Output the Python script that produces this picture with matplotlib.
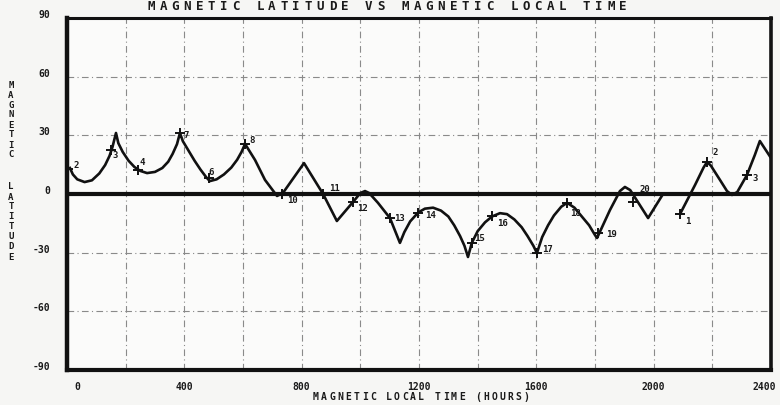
"""Magnetic latitude vs magnetic local time along the satellite track."""

import matplotlib
matplotlib.use("Agg")
import matplotlib.pyplot as plt
import matplotlib.transforms as mtransforms

# track before the data gap (MLT in hours*100, latitude in degrees)
TRACK1_MLT = [10, 20, 35, 60, 85, 110, 130, 145, 155, 167,
              175, 190, 210, 230, 250, 273, 300, 325, 345, 360, 375, 385,
              395, 415, 435, 455, 475, 487, 510, 535, 560, 580, 595, 607,
              641, 675, 716, 736, 808, 873, 920, 975, 1000, 1016, 1030, 1060,
              1101, 1135, 1150, 1170, 1197, 1220, 1248, 1275, 1300, 1320,
              1340, 1355, 1367, 1380, 1400, 1425, 1449, 1476, 1500, 1525,
              1550, 1570, 1590, 1602, 1620, 1640, 1660, 1685, 1705, 1730,
              1755, 1780, 1800, 1807, 1851, 1885, 1902, 1920, 1950, 1981,
              2032]
TRACK1_LAT = [13.3, 10.0, 7.5, 6.1, 7.0, 10.5, 14.8, 19.5, 24.0, 31.2,
              26.0, 21.5, 17.0, 13.8, 11.8, 10.7, 11.3, 13.3, 16.5, 20.5,
              25.5, 31.2, 27.0, 22.0, 17.0, 12.5, 8.5, 6.6, 7.5, 10.0, 13.5,
              17.5, 21.5, 25.6, 17.4, 7.2, -1.0, 0.5, 15.8, 0.0, -13.8, -4.1,
              0.5, 1.5, 0.5, -4.5, -12.3, -25.0, -19.5, -14.0, -9.5, -7.5,
              -7.0, -8.5, -11.5, -16.0, -21.5, -26.5, -32.2, -25.0, -19.0,
              -14.5, -11.5, -9.8, -10.3, -13.0, -17.0, -21.5, -26.5, -30.2,
              -22.0, -16.0, -11.0, -6.5, -4.5, -7.0, -11.5, -16.0, -21.0,
              -22.5, -8.2, 1.5, 3.6, 2.0, -5.0, -12.3, 0.0]

# track after the gap
TRACK2_MLT = [2090, 2141, 2170, 2182, 2195, 2226, 2250, 2267, 2285, 2318,
              2345, 2362, 2400]
TRACK2_LAT = [-10.2, 4.6, 13.5, 16.4, 14.5, 7.2, 1.5, -0.5, 1.0, 9.7,
              20.0, 27.1, 18.4]

# time marks along the track
MARK_MLT = [5, 150, 242, 385, 484, 607, 733, 873, 975, 1101, 1197, 1380, 1449,
            1602, 1705, 1810, 1930, 2090, 2182, 2318]
MARK_LAT = [13.0, 22.5, 12.3, 31.0, 8.0, 25.6, 0.0, 0.0, -4.1, -12.3, -9.5,
            -25.0, -11.5, -30.2, -4.5, -20.0, -4.0, -10.2, 16.4, 9.7]
MARK_LABELS = ["2", "3", "4", "7", "6", "8", "10", "11", "12", "13", "14", "15",
               "16", "17", "18", "19", "20", "1", "2", "3"]
# label offsets in pixels (dx, dy)
MARK_OFFSETS = [(8, 3), (4, -6), (4, 7), (6, -2), (2, 6), (7, 3), (10, -7),
                (11, 5), (10, -6), (10, 0), (12, -3), (8, 4), (10, -7),
                (11, 4), (8, -11), (14, -1), (12, 12), (8, -8), (8, 9), (8, -3)]

X_TICKS = [0, 400, 800, 1200, 1600, 2000, 2400]
Y_TICKS = [-90, -60, -30, 0, 30, 60, 90]
X_GRID = [200, 400, 600, 800, 1000, 1200, 1400, 1600, 1800, 2000, 2200]
Y_GRID = [-60, -30, 30, 60]

TITLE = "MAGNETIC LATITUDE VS MAGNETIC LOCAL TIME"
XLABEL = "MAGNETIC LOCAL TIME (HOURS)"
YLABEL = ["MAGNETIC", "LATITUDE"]

W, H = 780, 405
FONT = dict(family="DejaVu Sans Mono", fontweight="bold", color="#1a1a1a")


def spaced(fig, s, x0, y0, dx, dy, size):
    """Plotter-style lettering: one glyph per fixed pitch, in pixel coords."""
    for i, ch in enumerate(s):
        if ch == " ":
            continue
        fig.text((x0 + i * dx) / W, 1 - (y0 + i * dy) / H, ch, ha="center",
                 va="center", fontsize=size, **FONT)


def main():
    fig = plt.figure(figsize=(W / 100, H / 100), dpi=100, facecolor="#f6f6f4")
    ax = fig.add_axes([67 / W, 1 - 370 / H, (771 - 67) / W, (370 - 18) / H])
    ax.set_facecolor("#fbfbfa")
    ax.set_xlim(0, 2400)
    ax.set_ylim(-90, 90)

    grid = dict(color="#8a8a8a", lw=0.8, ls=(0, (6, 3, 1, 3)), zorder=1)
    for g in X_GRID:
        ax.axvline(g, **grid)
    for g in Y_GRID:
        ax.axhline(g, **grid)
    ax.axhline(0, color="#111111", lw=3.0, zorder=2)

    line = dict(color="#111111", lw=1.9, solid_joinstyle="round", zorder=3)
    ax.plot(TRACK1_MLT, TRACK1_LAT, **line)
    ax.plot(TRACK2_MLT, TRACK2_LAT, **line)
    ax.plot(MARK_MLT, MARK_LAT, ls="none", marker="+", ms=7, mew=1.4,
            color="#111111", zorder=4)
    for t, lat, lab, (dx, dy) in zip(MARK_MLT, MARK_LAT, MARK_LABELS, MARK_OFFSETS):
        ax.annotate(lab, (t, lat), xytext=(dx * 0.72, dy * 0.72),
                    textcoords="offset points", ha="center", va="center",
                    fontsize=6.5, **FONT)

    for side, lw in (("left", 3.2), ("bottom", 3.0), ("top", 2.2), ("right", 2.6)):
        ax.spines[side].set_linewidth(lw)
        ax.spines[side].set_color("#111111")

    ax.set_xticks(X_TICKS)
    ax.set_xticklabels([str(v) for v in X_TICKS])
    ax.set_yticks(Y_TICKS)
    ax.set_yticklabels([str(v) for v in Y_TICKS])
    ax.tick_params(length=0, labelsize=7, pad=9, colors="#1a1a1a")
    ax.tick_params(axis="y", pad=12)
    for lab in ax.get_xticklabels() + ax.get_yticklabels():
        lab.set_fontfamily(FONT["family"])
        lab.set_fontweight("bold")
    shift = mtransforms.ScaledTranslation(0, 4 / 100, fig.dpi_scale_trans)
    for lab in ax.get_yticklabels():
        lab.set_transform(lab.get_transform() + shift)
    xlabs = ax.get_xticklabels()
    nudge_first = mtransforms.ScaledTranslation(10 / 100, 0, fig.dpi_scale_trans)
    nudge_last = mtransforms.ScaledTranslation(-7 / 100, 0, fig.dpi_scale_trans)
    xlabs[0].set_transform(xlabs[0].get_transform() + nudge_first)
    xlabs[-1].set_transform(xlabs[-1].get_transform() + nudge_last)

    spaced(fig, TITLE, 151, 6, 12.1, 0, 9)
    spaced(fig, XLABEL, 316, 397, 8.1, 0, 7)
    spaced(fig, YLABEL[0], 11, 85, 0, 10, 6.5)
    spaced(fig, YLABEL[1], 11, 187, 0, 10, 6.5)

    fig.savefig("out.png", dpi=100, facecolor=fig.get_facecolor())


if __name__ == "__main__":
    main()
